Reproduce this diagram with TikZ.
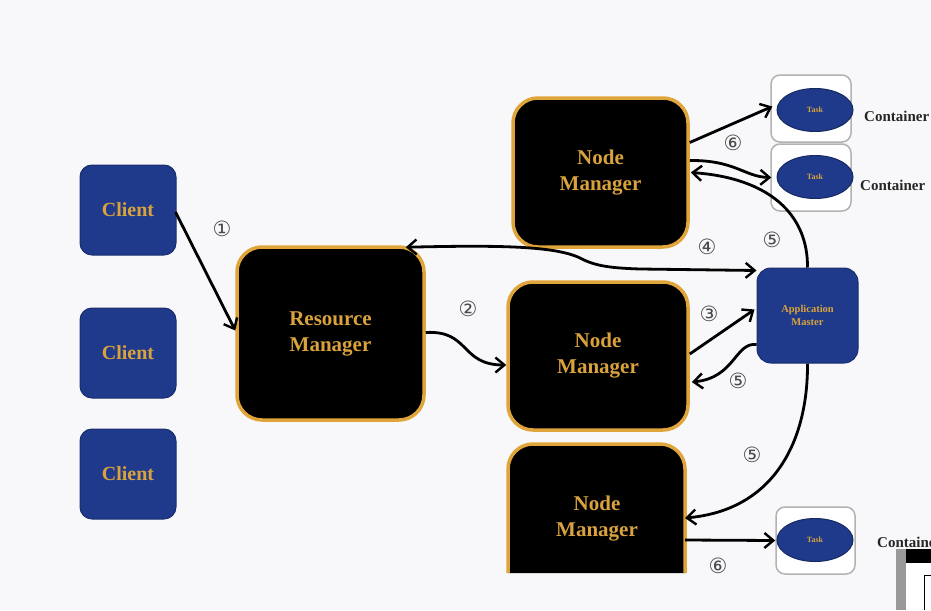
\documentclass[tikz,border=0pt]{standalone}
\usepackage{fontspec}
\setmainfont{Liberation Serif}
\newfontfamily\symfont{DejaVu Sans}
\usetikzlibrary{arrows.meta,shapes.geometric,calc}
\definecolor{bgc}{HTML}{F8F8FA}
\definecolor{navy}{HTML}{1F3A8A}
\definecolor{gold}{HTML}{E0A53A}
\definecolor{goldtxt}{HTML}{D9A23C}
\definecolor{numc}{HTML}{4A4A4A}
\tikzset{
  bluebox/.style={draw=navy!80!black, line width=1pt, fill=navy, rounded corners=12pt, text=goldtxt, font=\bfseries\fontsize{20}{22}\selectfont, align=center, inner sep=0pt},
  blackbox/.style={draw=gold, line width=3.5pt, fill=black, rounded corners=25pt, text=goldtxt, font=\bfseries\fontsize{21}{26}\selectfont, align=center, inner sep=0pt},
  contbox/.style={draw=gray!60, line width=1.5pt, fill=white, rounded corners=9pt, minimum width=80pt, minimum height=67pt, inner sep=0pt},
  taskell/.style={ellipse, draw=navy!70!black, line width=1pt, fill=navy, minimum width=76pt, minimum height=43pt, inner sep=0pt, text=goldtxt, font=\bfseries\fontsize{8}{9}\selectfont},
  contlabel/.style={font=\bfseries\fontsize{15}{17}\selectfont, text=black!85, anchor=west, inner sep=0pt},
  num/.style={font=\symfont\fontsize{21}{21}\selectfont, text=numc, inner sep=0pt},
  conn/.style={line width=2.8pt, black, -{Straight Barb[length=9pt,width=15pt,line width=2.4pt]}},
  conn2/.style={line width=2.8pt, black, {Straight Barb[length=9pt,width=15pt,line width=2.4pt]}-{Straight Barb[length=9pt,width=15pt,line width=2.4pt]}},
}
\begin{document}
\begin{tikzpicture}[x=1pt,y=-1pt]
\fill[bgc] (0,0) rectangle (931,610);
\useasboundingbox (0,0) rectangle (931,610);

% clients
\node[bluebox, minimum width=96pt, minimum height=90pt] (c1) at (128,210) {Client};
\node[bluebox, minimum width=96pt, minimum height=90pt] (c2) at (128,353) {Client};
\node[bluebox, minimum width=96pt, minimum height=90pt] (c3) at (128,474) {Client};

% resource manager
\node[blackbox, minimum width=187pt, minimum height=173pt] (rm) at (330.5,333.5) {Resource\\Manager};

% node managers
\node[blackbox, minimum width=175pt, minimum height=149pt] (nm1) at (600.5,172.5) {Node\\Manager};
\node[blackbox, minimum width=180pt, minimum height=148pt] (nm2) at (598,356) {Node\\Manager};
\fill[black, rounded corners=25pt] (508,573) -- (508,444) -- (685,444) -- (685,573);
\draw[gold, line width=3.5pt, rounded corners=25pt] (508,573) -- (508,444) -- (685,444) -- (685,573);
\node[text=goldtxt, font=\bfseries\fontsize{21}{26}\selectfont, align=center, inner sep=0pt] (nm3) at (597,519) {Node\\Manager};
\coordinate (nm3e) at (685,519);

% application master
\node[bluebox, minimum width=101pt, minimum height=95pt, rounded corners=14pt, font=\bfseries\fontsize{10.5}{13}\selectfont] (am) at (807.5,315.5) {Application\\Master};

% containers
\node[contbox] (k1) at (811,108.5) {};
\node[taskell] (t1) at (815,110) {Task};
\node[contbox] (k2) at (811,177.5) {};
\node[taskell] (t2) at (815,177) {Task};
\node[contbox, minimum width=79pt] (k3) at (815.5,540.5) {};
\node[taskell] (t3) at (815,540) {Task};
\node[contlabel] (l1) at (864,116) {Container};
\node[contlabel] (l2) at (860,185) {Container};
\node[contlabel] (l3) at (877,542) {Container};

% connectors
\draw[conn] ([xshift=-1pt,yshift=-2pt]c1.east) -- ([yshift=3pt]rm.west);
\draw[conn] ([yshift=1pt]rm.east) .. controls (470,330) and (460,365) .. ([yshift=-9pt]nm2.west);
\draw[conn2] ([xshift=-20pt,yshift=-2pt]rm.north east) .. controls (500,245) and (555,246) .. (580,258)
   .. controls (595,266) and (610,268) .. (640,269) -- ([yshift=45pt]am.west);
\draw[conn] ([yshift=2pt]nm2.east) -- ([xshift=-2pt,yshift=6pt]am.west);
\draw[conn] ([yshift=-29pt]am.west) .. controls (735,342) and (735,378) .. ([xshift=2pt,yshift=-26pt]nm2.east);
\draw[conn] (am.north) .. controls (808,215) and (770,178) .. ([xshift=1pt]nm1.east);
\draw[conn] (am.south) .. controls (808,440) and (775,510) .. ([yshift=1pt]nm3e);
\draw[conn] ([yshift=30pt]nm1.east) -- ([xshift=2pt,yshift=2pt]k1.west);
\draw[conn] ([yshift=12pt]nm1.east) .. controls (735,160) and (745,177) .. ([xshift=1pt]k2.west);
\draw[conn] ([yshift=-21pt]nm3e) -- (k3.west);

% numbers
\node[num] at (222,229) {①};
\node[num] at (468,309) {②};
\node[num] at (709,314) {③};
\node[num] at (707,247) {④};
\node[num] at (772,240) {⑤};
\node[num] at (738,381) {⑤};
\node[num] at (752,455) {⑤};
\node[num] at (733,143) {⑥};
\node[num] at (718,566) {⑥};

% corner artifact (screenshot fragment)
\fill[white] (896,549) rectangle (931,610);
\fill[gray!80] (896,549) rectangle (906,610);
\fill[black] (906,549) rectangle (931,563);
\draw[black, line width=0.8pt] (931,575) -- (924,575) -- (924,610);
\end{tikzpicture}
\end{document}
